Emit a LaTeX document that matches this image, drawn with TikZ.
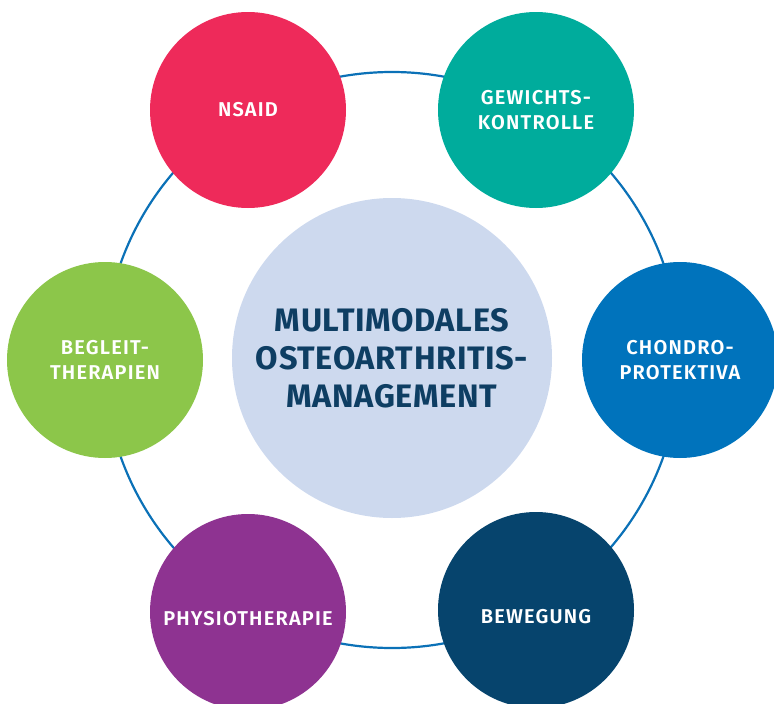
\documentclass[tikz,border=0pt]{standalone}
\usepackage{fontspec}
\setmainfont{Fira Sans}
\newfontfamily\semib{Fira Sans SemiBold}[LetterSpace=6]
\definecolor{ring}{HTML}{0B71B7}
\definecolor{cnsaid}{HTML}{EE2A5A}
\definecolor{cgew}{HTML}{00AC9C}
\definecolor{cchon}{HTML}{0073BC}
\definecolor{cbew}{HTML}{06446D}
\definecolor{cphys}{HTML}{8E3391}
\definecolor{cbeg}{HTML}{8CC64A}
\definecolor{ccenter}{HTML}{CDD9EE}
\definecolor{ctext}{HTML}{0E3E63}
\newcommand{\outerfont}{\semib\fontsize{20}{25}\selectfont}
\newcommand{\centerfont}{\fontsize{32.5}{38}\selectfont\bfseries\addfontfeatures{LetterSpace=2}}
\tikzset{
  outerdisc/.style={circle,minimum size=196pt,inner sep=0pt,text=white,align=center,
    font=\outerfont},
  lowtext/.style={text height=26pt,text depth=0pt},
}
\begin{document}
\begin{tikzpicture}[x=1pt,y=-1pt]
\useasboundingbox (0,0) rectangle (774,704);
\clip (0,0) rectangle (774,704);
\coordinate (c) at (392,360);
\draw[ring,line width=2.2pt] (c) circle[radius=288];
\node[circle,fill=ccenter,minimum size=320pt,inner sep=0pt,text=ctext,align=center,
  font=\centerfont] (main) at (392,358) {MULTIMODALES\\OSTEOARTHRITIS-\\MANAGEMENT};
\node[outerdisc,fill=cnsaid] (nsaid) at (248,110) {NSAID};
\node[outerdisc,fill=cgew] (gew) at (536,110) {GEWICHTS-\\KONTROLLE};
\node[outerdisc,fill=cchon] (chon) at (680,360) {CHONDRO-\\PROTEKTIVA};
\node[outerdisc,lowtext,fill=cbew] (bew) at (536,610) {BEWEGUNG};
\node[outerdisc,lowtext,fill=cphys] (phys) at (248,612) {PHYSIOTHERAPIE};
\node[outerdisc,fill=cbeg] (beg) at (105,360) {BEGLEIT-\\THERAPIEN};
\end{tikzpicture}
\end{document}
